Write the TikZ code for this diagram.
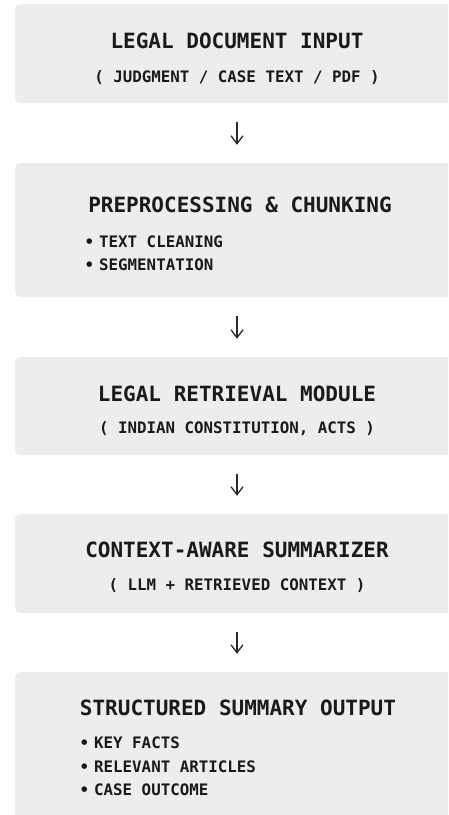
\documentclass[tikz,border=0pt]{standalone}
\usepackage{fontspec}
\usetikzlibrary{positioning,calc,arrows.meta}
\newfontfamily\monofont{DejaVu Sans Mono}
\definecolor{boxgray}{HTML}{EDEDED}
\definecolor{ink}{HTML}{1A1A1A}
\definecolor{arrowgray}{HTML}{2A2A2A}
\newcommand{\itm}[1]{\makebox[12pt][l]{\hspace{-2.5pt}•}#1}
\tikzset{font=\monofont\bfseries}

\begin{document}
\begin{tikzpicture}[x=1pt, y=-1pt]
	\useasboundingbox (0,0) rectangle (448,815);
	\clip (0,0) rectangle (448,815);
	\begin{scope}
		\tikzstyle{stage}=[fill=boxgray, rounded corners=5pt, minimum width=444pt, inner sep=0pt]
		\tikzstyle{ttl}=[text=ink, inner sep=0pt, anchor=base, font=\monofont\bfseries\fontsize{21}{24}\selectfont]
		\tikzstyle{sub}=[text=ink, inner sep=0pt, anchor=base, font=\monofont\bfseries\fontsize{15.8}{18}\selectfont]
		\tikzstyle{itemtxt}=[sub, anchor=base west]
		\tikzstyle{flow}=[draw=arrowgray, line width=1.3pt, shorten <=19pt, shorten >=18pt, -{Straight Barb[length=8pt, width=12pt]}]

		% boxes
		\node[stage, minimum height=99pt] (input) at (237, 53.5) {};
		\node[stage, minimum height=134pt] (prep) at (237, 230) {};
		\node[stage, minimum height=98pt] (retr) at (237, 406) {};
		\node[stage, minimum height=99pt] (summ) at (237, 563.5) {};
		\node[stage, minimum height=170pt] (outp) at (237, 757) {};

		% texts
		\node[ttl] (input-t) at (237, 48) {LEGAL DOCUMENT INPUT};
		\node[sub] (input-s) at (237, 82) {( JUDGMENT / CASE TEXT / PDF )};

		\node[ttl] (prep-t) at (240, 212) {PREPROCESSING \& CHUNKING};
		\node[itemtxt] (prep-a) at (87, 247) {\itm{TEXT CLEANING}};
		\node[itemtxt] (prep-b) at (87, 270) {\itm{SEGMENTATION}};

		\node[ttl] (retr-t) at (237, 401) {LEGAL RETRIEVAL MODULE};
		\node[sub] (retr-s) at (237, 433) {( INDIAN CONSTITUTION, ACTS )};

		\node[ttl] (summ-t) at (237, 557) {CONTEXT-AWARE SUMMARIZER};
		\node[sub] (summ-s) at (237, 590) {( LLM + RETRIEVED CONTEXT )};

		\node[ttl] (outp-t) at (238, 715) {STRUCTURED SUMMARY OUTPUT};
		\node[itemtxt] (outp-a) at (82, 748) {\itm{KEY FACTS}};
		\node[itemtxt] (outp-b) at (82, 772) {\itm{RELEVANT ARTICLES}};
		\node[itemtxt] (outp-c) at (82, 795) {\itm{CASE OUTCOME}};

		% arrows
		\draw[flow] (input) -- (prep);
		\draw[flow] (prep) -- (retr);
		\draw[flow] (retr) -- (summ);
		\draw[flow] (summ) -- (outp);
	\end{scope}
\end{tikzpicture}
\end{document}
